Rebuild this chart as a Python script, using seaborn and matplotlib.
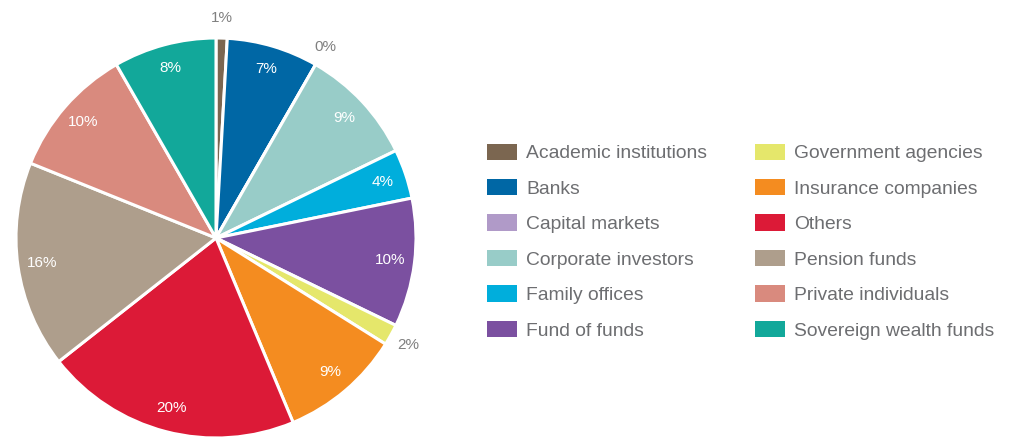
import numpy as np
import matplotlib
matplotlib.use('Agg')
from matplotlib import pyplot as plt
from matplotlib.patches import Patch
import seaborn as sns

categories = ['Academic institutions', 'Banks', 'Capital markets', 'Corporate investors',
              'Family offices', 'Fund of funds', 'Government agencies', 'Insurance companies',
              'Others', 'Pension funds', 'Private individuals', 'Sovereign wealth funds']
values = [0.9, 7.4, 0.0, 9.5, 4.0, 10.4, 1.7, 9.8, 20.7, 16.7, 10.6, 8.3]
pct_labels = ['1%', '7%', '0%', '9%', '4%', '10%', '2%', '9%', '20%', '16%', '10%', '8%']
colours = ['#7B6650', '#0067A5', '#B09AC8', '#98CCC8', '#00AEDC', '#7B50A0',
           '#E5E76B', '#F48C20', '#DC1A37', '#AE9E8C', '#D98A7E', '#12A89A']

sns.set_theme(style='white')
plt.rcParams['font.family'] = ['Liberation Sans', 'DejaVu Sans']

fig = plt.figure(figsize=(10.13, 4.38), dpi=100)
ax = fig.add_axes([16 / 1013, 0, 400 / 1013, 400 / 438])

wedges, _ = ax.pie(values, colors=colours, startangle=90, counterclock=False,
                   wedgeprops={'edgecolor': 'white', 'linewidth': 2.2})
ax.set_aspect('equal')

# подписи процентов: маленькие доли - снаружи серым
for w, lab, v in zip(wedges, pct_labels, values):
    ang = np.deg2rad((w.theta1 + w.theta2) / 2)
    if v < 3:
        r, col = 1.1, '#808080'
    else:
        r, col = 0.88, 'white'
    ax.text(r * np.cos(ang), r * np.sin(ang), lab, ha='center', va='center',
            fontsize=11, color=col)

ax.set_xlim(-1, 1)
ax.set_ylim(-1, 1)
ax.axis('off')

handles = [Patch(facecolor=c, edgecolor='none') for c in colours]
leg = fig.legend(handles, categories, ncol=2, loc='upper left',
                 bbox_to_anchor=(487 / 1013, 1 - 143.5 / 438), frameon=False,
                 fontsize=13.9, handlelength=1.55, handleheight=0.93,
                 handletextpad=0.47, labelspacing=0.86, columnspacing=2.5,
                 borderpad=0, borderaxespad=0)
for t in leg.get_texts():
    t.set_color('#6D6E71')

fig.savefig('out.png', dpi=100)
